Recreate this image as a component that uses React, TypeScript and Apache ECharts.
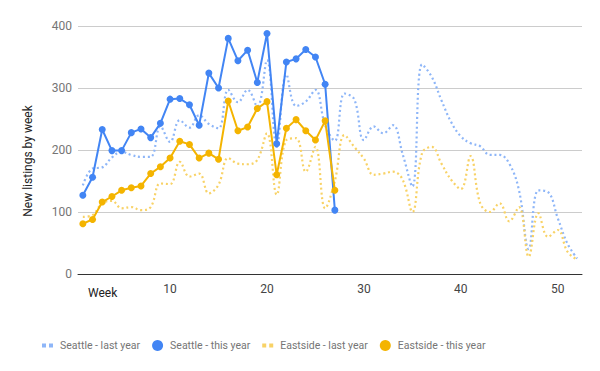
import React, { useEffect, useRef } from "react";
import * as echarts from "echarts";

const weeks: string[] = Array.from({ length: 52 }, (_, i) => String(i + 1));

const seattleLast: number[] = [
  143, 170, 172, 188, 197, 192, 189, 189, 238, 213, 248, 236, 256, 242, 235, 297,
  277, 297, 270, 345, 205, 322, 271, 278, 297, 240, 215, 291, 282, 216, 238, 227,
  240, 193, 141, 338, 318, 280, 245, 222, 211, 206, 192, 192, 178, 135, 40, 135,
  132, 90, 49, 25,
];
const seattleThis: (number | null)[] = [
  127, 156, 233, 199, 199, 228, 234, 220, 243, 282, 283, 273, 240, 324, 300, 380,
  344, 361, 309, 388, 210, 342, 347, 362, 350, 306, 103,
];
const eastsideLast: number[] = [
  92, 95, 114, 118, 106, 108, 103, 108, 146, 145, 181, 157, 162, 130, 144, 187,
  178, 177, 184, 227, 128, 216, 219, 165, 205, 106, 150, 224, 205, 186, 160, 162,
  165, 152, 100, 195, 205, 178, 152, 137, 190, 114, 100, 114, 85, 108, 28, 98,
  60, 71, 36, 23,
];
const eastsideThis: (number | null)[] = [
  81, 88, 116, 125, 135, 139, 142, 162, 173, 187, 214, 209, 187, 195, 185, 279,
  231, 237, 267, 278, 160, 235, 249, 231, 216, 247, 135,
];

const yTicks = { min: 0, max: 400, interval: 100 };

const BLUE = "#4285F4";
const YELLOW = "#F4B400";
const BLUE_LIGHT = "#8EB6F8";
const YELLOW_LIGHT = "#F8D266";
const DOTS_ICON = "path://M0,0h4v4h-4zM7,0h4v4h-4z";

export default function App() {
  const ref = useRef<HTMLDivElement>(null);
  useEffect(() => {
    if (!ref.current) return;
    const chart = echarts.init(ref.current, undefined, { renderer: "svg" });
    const dotted = (name: string, data: number[], color: string) => ({
      name,
      type: "line",
      data,
      smooth: 0.4,
      showSymbol: false,
      symbol: "none",
      z: 1,
      itemStyle: { color },
      lineStyle: { color, width: 2.2, type: [2, 2.8], cap: "butt" },
    });
    const solid = (name: string, data: (number | null)[], color: string) => ({
      name,
      type: "line",
      data,
      symbol: "circle",
      symbolSize: 7,
      showSymbol: true,
      showAllSymbol: true,
      z: 3,
      itemStyle: { color },
      lineStyle: { color, width: 2 },
    });
    chart.setOption({
      animation: false,
      textStyle: { fontFamily: "Roboto" },
      grid: { left: 78, right: 18, top: 26, bottom: 97 },
      xAxis: {
        type: "category",
        data: weeks,
        boundaryGap: true,
        axisLine: { lineStyle: { color: "#333", width: 1 } },
        axisTick: { show: false },
        axisLabel: {
          interval: (i: number) => (i + 1) % 10 === 0,
          color: "#444",
          fontSize: 12,
          margin: 9,
        },
        splitLine: { show: false },
      },
      yAxis: {
        type: "value",
        min: yTicks.min,
        max: yTicks.max,
        interval: yTicks.interval,
        axisLine: { show: false },
        axisTick: { show: false },
        axisLabel: { color: "#757575", fontSize: 12, margin: 6 },
        splitLine: { lineStyle: { color: "#cccccc", width: 1 } },
      },
      legend: {
        left: 37,
        top: 335,
        itemWidth: 11,
        itemHeight: 11,
        itemGap: 12,
        textStyle: { color: "#757575", fontSize: 10.5, padding: [0, 0, 0, 2] },
        data: [
          { name: "Seattle - last year", icon: DOTS_ICON },
          { name: "Seattle - this year", icon: "circle" },
          { name: "Eastside - last year", icon: DOTS_ICON },
          { name: "Eastside - this year", icon: "circle" },
        ],
      },
      graphic: [
        {
          type: "text",
          left: 88,
          top: 287,
          style: { text: "Week", fill: "#222", fontSize: 12, fontFamily: "Roboto" },
        },
        {
          type: "text",
          x: 28,
          y: 161,
          rotation: Math.PI / 2,
          style: {
            text: "New listings by week",
            fill: "#222",
            fontSize: 12,
            fontFamily: "Roboto",
            align: "center",
            verticalAlign: "middle",
          },
        },
      ],
      series: [
        dotted("Seattle - last year", seattleLast, BLUE_LIGHT),
        solid("Seattle - this year", seattleThis, BLUE),
        dotted("Eastside - last year", eastsideLast, YELLOW_LIGHT),
        solid("Eastside - this year", eastsideThis, YELLOW),
      ],
    });
    return () => chart.dispose();
  }, []);
  return <div ref={ref} style={{ width: 600, height: 371, margin: -8 }} />;
}
